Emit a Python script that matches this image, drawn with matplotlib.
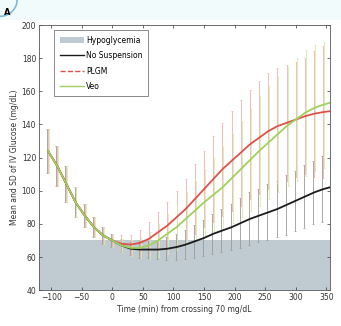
import numpy as np
import matplotlib
matplotlib.use("Agg")
import matplotlib.pyplot as plt
from matplotlib.patches import Patch, Rectangle
from matplotlib.lines import Line2D

times = [-105, -90, -75, -60, -45, -30, -15, 0, 15, 30, 45, 60, 75, 90, 105, 120,
         135, 150, 165, 180, 195, 210, 225, 240, 255, 270, 285, 300, 315, 330, 345, 355]

pre_mean = [124, 115, 104, 93, 85, 78, 73, 70]
pre_sd = [13, 12, 11, 9, 7, 6, 5, 4]

nosusp_mean = pre_mean + [67, 65, 64.5, 64.5, 64.5, 65, 66, 67.5, 69.5, 71.5, 74, 76, 78,
                          80.5, 83, 85, 87, 89, 91.5, 94, 96.5, 99, 101, 102]
nosusp_sd = pre_sd + [4, 4, 5, 5, 6, 7, 8, 9, 10, 11, 12, 13, 14, 15, 16, 16, 17, 17, 18,
                      18, 19, 19, 20, 0]

plgm_mean = pre_mean + [68, 67.5, 68.5, 71, 75, 79, 84, 89, 95, 101, 107, 113, 118, 123,
                        128, 132, 136, 139, 141, 143, 145, 146.5, 147.5, 148]
plgm_sd = pre_sd + [5, 6, 8, 10, 12, 14, 16, 18, 21, 23, 26, 28, 30, 32, 33, 34, 35, 35,
                    35, 35, 35, 38, 40, 0]

veo_mean = pre_mean + [67, 65.5, 65.5, 67, 70, 74, 78, 83, 88, 93, 97.5, 102, 107.5, 113,
                       118.5, 124, 129, 134, 139, 143, 147, 150, 152, 153]
veo_sd = pre_sd + [4, 5, 6, 8, 10, 12, 14, 16, 18, 20, 22, 25, 27, 29, 31, 33, 34, 35, 36,
                   37, 38, 38, 38, 0]

x_ticks = [-100, -50, 0, 50, 100, 150, 200, 250, 300, 350]
y_ticks = [40, 60, 80, 100, 120, 140, 160, 180, 200]

fig = plt.figure(figsize=(3.41, 3.26), dpi=100)
fig.patches.append(Rectangle((0, 0.94), 1, 0.06, transform=fig.transFigure,
                             facecolor="#f1fbfb", edgecolor="none", zorder=0))
th = np.linspace(0.0, np.pi / 2, 30)
fig.add_artist(Line2D(0.05 * np.cos(th), 1.0 - 0.05 * np.sin(th),
                      transform=fig.transFigure, color="#4a9fd0", lw=1.2, alpha=0.7))
fig.text(0.012, 0.962, "A", fontsize=6, fontweight="bold", ha="left", va="center")

ax = fig.add_axes([0.114, 0.11, 0.854, 0.813])
ax.axhspan(40, 70, color="#bfcbd0", zorder=0, lw=0)

t = np.array(times, dtype=float)
series = [
    (nosusp_mean, nosusp_sd, "#1a1a1a", "#9a9a9a", "No Suspension", -1.5),
    (plgm_mean, plgm_sd, "#e0504a", "#f2b0b0", "PLGM", 0.0),
    (veo_mean, veo_sd, "#9ed25a", "#d6ecaa", "Veo", 1.5),
]
for m, s, lc, ec, lab, off in series:
    m = np.array(m, float)
    s = np.array(s, float)
    sel = s > 0
    ax.errorbar(t[sel] + off, m[sel], yerr=s[sel], fmt="none", ecolor=ec,
                elinewidth=0.6, capsize=1.0, capthick=0.5, zorder=2)
for m, s, lc, ec, lab, off in series:
    ax.plot(t, m, color=lc, lw=1.3, zorder=3)

ax.set_xlim(-120, 356)
ax.set_ylim(40, 200)
ax.set_xticks(x_ticks)
ax.set_yticks(y_ticks)
ax.tick_params(direction="in", length=2.5, width=0.5, labelsize=5.5, top=True,
               right=True, pad=2, colors="#333333")
for sp in ax.spines.values():
    sp.set_linewidth(0.6)
    sp.set_color("#555555")
ax.set_xlabel("Time (min) from crossing 70 mg/dL", fontsize=5.5, labelpad=2, color="#333333")
ax.set_ylabel("Mean and SD of IV Glucose (mg/dL)", fontsize=5.5, labelpad=2, color="#333333")

handles = [
    Patch(facecolor="#bfcbd0", edgecolor="none", label="Hypoglycemia"),
    Line2D([], [], color="#1a1a1a", lw=1.0, label="No Suspension"),
    Line2D([], [], color="#e0504a", lw=1.0, ls="--", label="PLGM"),
    Line2D([], [], color="#9ed25a", lw=1.0, label="Veo"),
]
leg = ax.legend(handles=handles, loc="upper left", bbox_to_anchor=(0.04, 0.995),
                fontsize=5.5, frameon=True, fancybox=False, edgecolor="#555555",
                handlelength=3.2, handletextpad=0.3, borderpad=0.7, labelspacing=0.85)
leg.get_frame().set_linewidth(0.6)

fig.savefig("out.png", dpi=100)
